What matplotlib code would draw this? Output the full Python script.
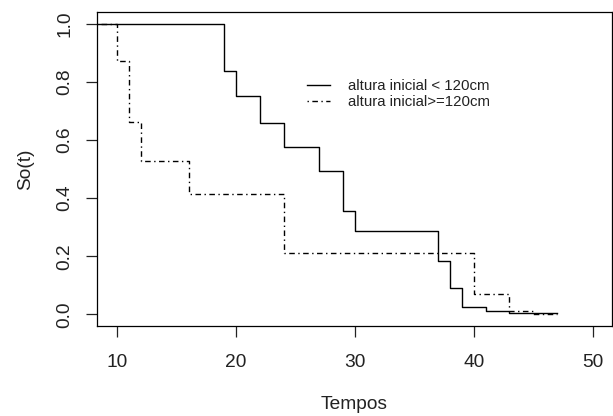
import matplotlib
matplotlib.use("Agg")
import matplotlib.pyplot as plt

plt.rcParams['font.family'] = ['Liberation Sans', 'DejaVu Sans']

# Survival curve: altura inicial < 120cm
t_low = [0, 19, 20, 22, 24, 27, 29, 30, 37, 38, 39, 41, 43, 47]
s_low = [1.0, 0.836, 0.751, 0.658, 0.577, 0.494, 0.357, 0.287, 0.183, 0.090, 0.026, 0.011, 0.003, 0.003]

# Survival curve: altura inicial >= 120cm
t_high = [0, 10, 11, 12, 16, 24, 40, 43, 45, 47]
s_high = [1.0, 0.872, 0.663, 0.527, 0.413, 0.212, 0.070, 0.011, 0.0, 0.0]

labels = ["altura inicial < 120cm", "altura inicial>=120cm"]
xticks = [10, 20, 30, 40, 50]
yticks = [0.0, 0.2, 0.4, 0.6, 0.8, 1.0]

fig = plt.figure(figsize=(6.13, 4.16), dpi=100)
ax = fig.add_axes([97/613, 90/416, (611.7-97)/613, (326-12)/416])

ax.step(t_low, s_low, where='post', color='black', lw=1.0, label=labels[0])
l2, = ax.step(t_high, s_high, where='post', color='black', lw=1.0, label=labels[1])
l2.set_dashes((1, 2.5, 4, 2.5))

ax.set_xlim(8.29, 51.6)
ax.set_ylim(-0.04, 1.04)
ax.set_xticks(xticks)
ax.set_xticklabels([str(v) for v in xticks])
ax.set_yticks(yticks)
ax.set_yticklabels([f"{v:.1f}" for v in yticks], rotation=90, va='center')

for s in ax.spines.values():
    s.set_linewidth(0.9)
    s.set_color('black')

ax.tick_params(axis='both', direction='out', length=8, width=0.9, labelsize=13.8, colors='#222222')
ax.tick_params(axis='x', pad=12)
ax.tick_params(axis='y', pad=9)

ax.set_xlabel("Tempos", fontsize=13.8, labelpad=18, color='#222222')
ax.set_ylabel("So(t)", fontsize=13.8, labelpad=16, color='#222222')

leg = ax.legend(loc='upper left', bbox_to_anchor=((307-97)/(611.7-97), 1 - (79-12)/(326-12)),
                frameon=False, fontsize=10.8, handlelength=1.5, handletextpad=1.25,
                labelspacing=0.15, borderaxespad=0, borderpad=0)
for t in leg.get_texts():
    t.set_color('#222222')

fig.savefig("out.png", dpi=100)
